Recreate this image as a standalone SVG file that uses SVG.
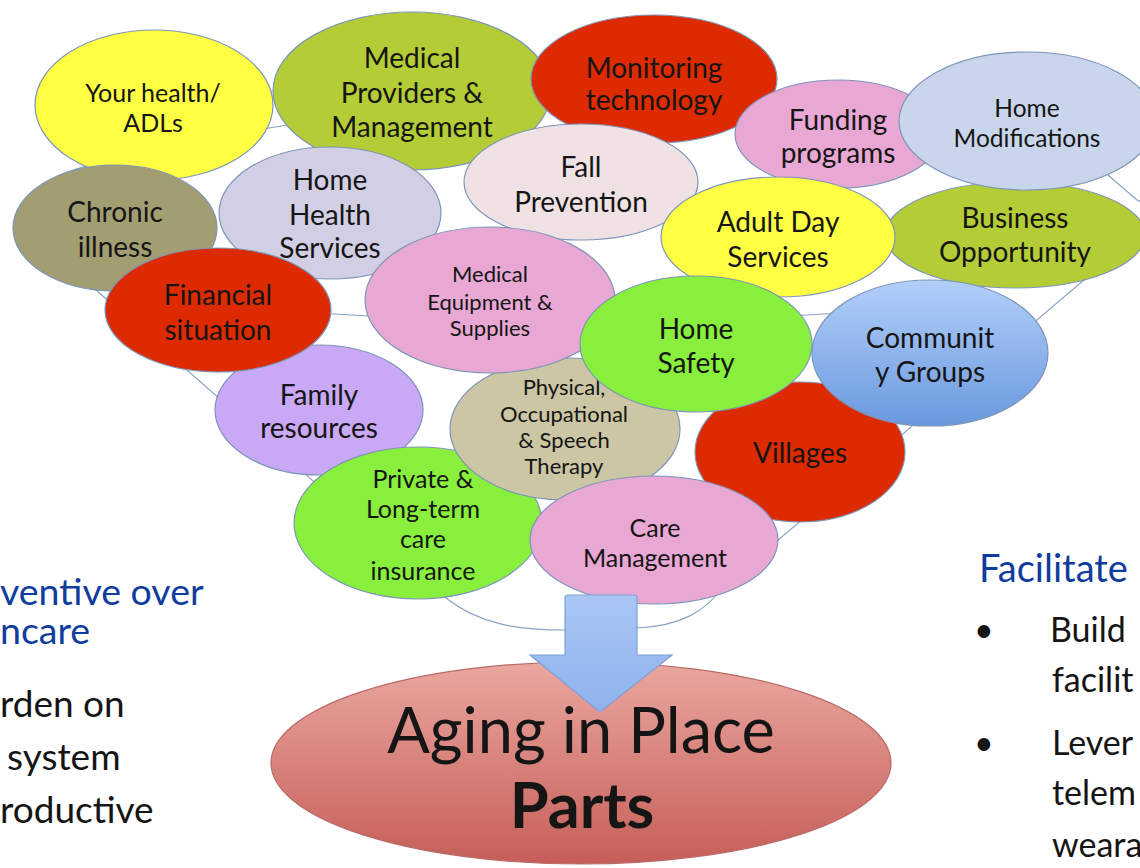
<svg xmlns="http://www.w3.org/2000/svg" width="1140" height="868" viewBox="0 0 1140 868">
<defs>
<style>
.n{stroke:#7d95b8;stroke-width:1.2}
.t{font-family:Lato,"Liberation Sans",sans-serif;fill:#151515;text-anchor:middle}
.f28{font-size:28px}.f25{font-size:25px}.f24{font-size:24.5px}.f22{font-size:22px}
.yel{fill:#ffff44}.oli{fill:#b4cc35}.red{fill:#dd2a00}.pnk{fill:#e9a8d3}.grn{fill:#88f03c}
.side{font-family:Lato,"Liberation Sans",sans-serif;fill:#151515}
.blue{fill:#103c9e}
.fun{fill:none;stroke:#8aa2c0;stroke-width:1.2}
</style>
<linearGradient id="gCom" x1="0" y1="0" x2="0" y2="1">
<stop offset="0" stop-color="#b2cff9"/><stop offset="1" stop-color="#6a99df"/>
</linearGradient>
<linearGradient id="gBig" x1="0" y1="0" x2="0" y2="1">
<stop offset="0" stop-color="#eaa7a0"/><stop offset="1" stop-color="#c65e58"/>
</linearGradient>
<linearGradient id="gArr" x1="0" y1="0" x2="0" y2="1">
<stop offset="0" stop-color="#a9c6f5"/><stop offset="1" stop-color="#8fb3ec"/>
</linearGradient>
</defs>
<rect width="1140" height="868" fill="#ffffff"/>

<g id="connectors">
<path class="fun" d="M96,290 L446,598 C480,625 520,630 565,630 L637,628 C680,626 705,612 723,587 L1145,228 C1158,212 1150,205 1137,200 L1108,175 C1000,105 450,95 287,125 L269,128 C180,145 100,158 60,175 C20,195 20,240 96,290 Z"/>
<path class="fun" d="M300,312 Q580,330 840,313"/>
</g>

<g id="aging-in-place">
<ellipse cx="581" cy="763" rx="310" ry="101" fill="url(#gBig)" stroke="#b86a66" stroke-width="1.2"/>
<text class="t" x="581" y="753" font-size="63">Aging in Place</text>
<text class="t" x="582" y="828" font-size="63" font-weight="bold">Parts</text>
</g>

<g id="your-health">
<ellipse class="n yel" cx="154" cy="105" rx="119" ry="75"/>
<text class="t f25" x="153" y="102">Your health/</text>
<text class="t f25" x="153" y="132">ADLs</text>
</g>
<g id="medical-providers">
<ellipse class="n oli" cx="412" cy="91" rx="139" ry="79"/>
<text class="t f28" x="412" y="68">Medical</text>
<text class="t f28" x="412" y="103">Providers &amp;</text>
<text class="t f28" x="412" y="137">Management</text>
</g>
<g id="monitoring">
<ellipse class="n red" cx="654" cy="79" rx="123" ry="64"/>
<text class="t f28" x="654" y="78">Monitoring</text>
<text class="t f28" x="654" y="110">technology</text>
</g>
<g id="funding">
<ellipse class="n pnk" cx="838" cy="134" rx="103" ry="54"/>
<text class="t f28" x="838" y="130">Funding</text>
<text class="t f28" x="838" y="163">programs</text>
</g>
<g id="business">
<ellipse class="n oli" cx="1015" cy="235" rx="130" ry="53"/>
<text class="t f28" x="1015" y="228">Business</text>
<text class="t f28" x="1015" y="262">Opportunity</text>
</g>
<g id="home-modifications">
<ellipse class="n" fill="#c8d5ea" cx="1027" cy="121" rx="128" ry="69"/>
<text class="t f24" x="1027" y="117">Home</text>
<text class="t f24" x="1027" y="147">Modifications</text>
</g>
<g id="fall-prevention">
<ellipse class="n" fill="#f0e2e4" cx="581" cy="182" rx="117" ry="58"/>
<text class="t f28" x="581" y="177">Fall</text>
<text class="t f28" x="581" y="212">Prevention</text>
</g>
<g id="adult-day">
<ellipse class="n yel" cx="778" cy="237" rx="117" ry="60"/>
<text class="t f28" x="778" y="232">Adult Day</text>
<text class="t f28" x="778" y="267">Services</text>
</g>
<g id="chronic-illness">
<ellipse class="n" fill="#a39d72" cx="115" cy="228" rx="102" ry="63"/>
<text class="t f28" x="115" y="222">Chronic</text>
<text class="t f28" x="115" y="257">illness</text>
</g>
<g id="home-health">
<ellipse class="n" fill="#d2cee3" cx="330" cy="213" rx="111" ry="66"/>
<text class="t f28" x="330" y="190">Home</text>
<text class="t f28" x="330" y="225">Health</text>
<text class="t f28" x="330" y="258">Services</text>
</g>
<g id="family-resources">
<ellipse class="n" fill="#c9a8f5" cx="319" cy="410" rx="104" ry="65"/>
<text class="t f28" x="319" y="405">Family</text>
<text class="t f28" x="319" y="438">resources</text>
</g>
<g id="financial">
<ellipse class="n red" cx="218" cy="310" rx="113" ry="62"/>
<text class="t f28" x="218" y="305">Financial</text>
<text class="t f28" x="218" y="340">situation</text>
</g>
<g id="private-insurance">
<ellipse class="n grn" cx="418" cy="523" rx="124" ry="76"/>
<text class="t f25" x="423" y="488">Private &amp;</text>
<text class="t f25" x="423" y="518">Long-term</text>
<text class="t f25" x="423" y="548">care</text>
<text class="t f25" x="423" y="580">insurance</text>
</g>
<g id="therapy">
<ellipse class="n" fill="#ccc6a4" cx="565" cy="429" rx="115" ry="71"/>
<text class="t f22" x="564" y="395">Physical,</text>
<text class="t f22" x="564" y="422">Occupational</text>
<text class="t f22" x="564" y="448">&amp; Speech</text>
<text class="t f22" x="564" y="474">Therapy</text>
</g>
<g id="medical-equipment">
<ellipse class="n pnk" cx="490" cy="300" rx="125" ry="73"/>
<text class="t f22" x="490" y="282">Medical</text>
<text class="t f22" x="490" y="310">Equipment &amp;</text>
<text class="t f22" x="490" y="336">Supplies</text>
</g>
<g id="villages">
<ellipse class="n red" cx="800" cy="452" rx="105" ry="70"/>
<text class="t f28" x="800" y="463">Villages</text>
</g>
<g id="home-safety">
<ellipse class="n grn" cx="696" cy="344" rx="116" ry="68"/>
<text class="t f28" x="696" y="339">Home</text>
<text class="t f28" x="696" y="373">Safety</text>
</g>
<g id="community-groups">
<ellipse class="n" fill="url(#gCom)" cx="930" cy="353" rx="118" ry="73"/>
<text class="t f28" x="930" y="348">Communit</text>
<text class="t f28" x="930" y="382">y Groups</text>
</g>
<g id="care-management">
<ellipse class="n pnk" cx="654" cy="540" rx="124" ry="64"/>
<text class="t f25" x="655" y="537">Care</text>
<text class="t f25" x="655" y="567">Management</text>
</g>

<g id="arrow">
<path d="M565,598 Q565,595 568,595 L634,595 Q637,595 637,598 L637,655 L672,655 L600,712 L530,655 L565,655 Z" fill="url(#gArr)" stroke="#7fa0da" stroke-width="1.2"/>
</g>

<g id="left-text">
<text class="side blue" x="0" y="605" font-size="37.5">ventive over</text>
<text class="side blue" x="0" y="644" font-size="37.5">ncare</text>
<text class="side" x="0" y="717" font-size="37">rden on</text>
<text class="side" x="7" y="770" font-size="37">system</text>
<text class="side" x="0" y="823" font-size="37">roductive</text>
</g>
<g id="right-text">
<text class="side blue" x="979" y="582" font-size="38">Facilitate</text>
<text class="side" x="974" y="642" font-size="34">•</text>
<text class="side" x="1050" y="642" font-size="34">Build</text>
<text class="side" x="1052" y="692" font-size="34">facilit</text>
<text class="side" x="974" y="755" font-size="34">•</text>
<text class="side" x="1052" y="755" font-size="34">Lever</text>
<text class="side" x="1052" y="805" font-size="34">telem</text>
<text class="side" x="1052" y="857" font-size="34">weara</text>
</g>
</svg>
